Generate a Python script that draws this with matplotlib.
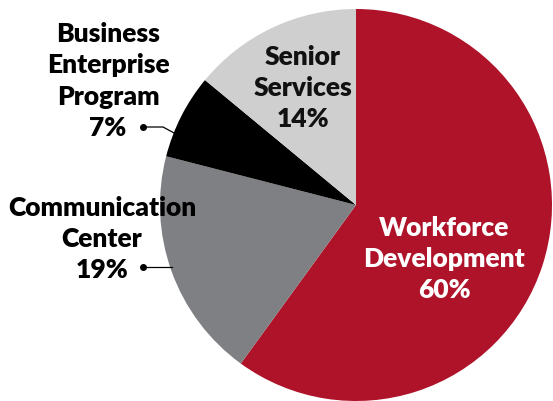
import matplotlib
matplotlib.use("Agg")
import matplotlib.pyplot as plt

labels = ["Workforce\nDevelopment", "Communication\nCenter", "Business\nEnterprise\nProgram", "Senior\nServices"]
shares = [60, 19, 7, 14]
colors = ["#AE132A", "#7F8083", "#000000", "#CFCFD0"]

W, H = 553, 402
fig = plt.figure(figsize=(W / 100, H / 100), dpi=100)
ax = fig.add_axes([0, 0, 1, 1])

cx, cy, r = 356, H - 206, 196
ax.pie(shares, colors=colors, startangle=90, counterclock=False,
       center=(cx, cy), radius=r, frame=True,
       wedgeprops=dict(linewidth=0))
ax.set_xlim(0, W)
ax.set_ylim(0, H)
ax.set_aspect("equal")
ax.axis("off")

font = dict(family="Lato", fontweight="heavy", fontsize=19, ha="center",
            va="center", linespacing=1.36)

def lab(i):
    return f"{labels[i]}\n{shares[i]}%"

# labels inside slices
ax.text(444, H - 259, lab(0), color="white", **font)
ax.text(303, H - 88, lab(3), color="#111111", **font)
# labels outside with leader lines
ax.text(102, H - 239, lab(1), color="black", **font)
ax.text(108, H - 81, lab(2), color="black", **font)

def leader(pts):
    xs = [p[0] for p in pts]
    ys = [H - p[1] for p in pts]
    ax.plot(xs, ys, color="black", lw=0.9)
    ax.plot(xs[0], ys[0], "o", color="black", ms=4)

leader([(143, 128), (163, 128), (176, 135)])
leader([(143, 268), (172, 268)])

fig.savefig("out.png", dpi=100)
